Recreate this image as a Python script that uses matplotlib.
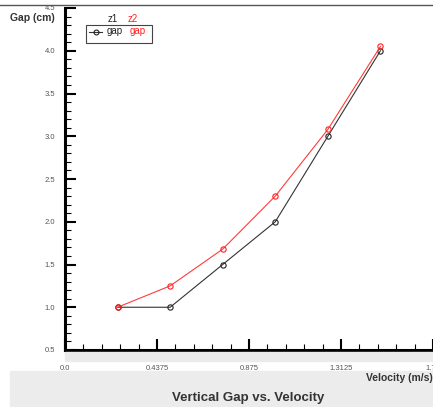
import matplotlib
matplotlib.use("Agg")
import matplotlib.pyplot as plt
from matplotlib.patches import Rectangle
from matplotlib.lines import Line2D
from matplotlib.ticker import MultipleLocator, FixedLocator

plt.rcParams["font.family"] = ["Liberation Sans", "DejaVu Sans"]

velocity = [0.25, 0.5, 0.75, 1.0, 1.25, 1.5]
gap_z1 = [1.0, 1.0, 1.5, 2.0, 3.0, 4.0]
gap_z2 = [1.0, 1.25, 1.68, 2.3, 3.08, 4.05]
x_ticks = [0.0, 0.4375, 0.875, 1.3125, 1.75]
x_tick_labels = ["0.0", "0.4375", "0.875", "1.3125", "1.75"]
y_ticks = [0.5, 1.0, 1.5, 2.0, 2.5, 3.0, 3.5, 4.0, 4.5]

W, H = 433, 407
fig = plt.figure(figsize=(W / 100, H / 100), dpi=100)
fig.patch.set_facecolor("white")

def fx(px):
    return px / W

def fy(py):
    return 1 - py / H

# background panels
fig.patches.append(Rectangle((fx(65), fy(361)), 1 - fx(65), fy(352) - fy(361),
                             transform=fig.transFigure, color="#ebebeb", zorder=0))
fig.patches.append(Rectangle((fx(10), 0), 1 - fx(10), fy(371),
                             transform=fig.transFigure, color="#ececec", zorder=0))
fig.lines.append(Line2D([0, 1], [fy(5), fy(5)], transform=fig.transFigure,
                        color="#555555", lw=1.0))

ax = fig.add_axes([fx(65), fy(350), 1 - fx(65) + 0.0, fy(8) - fy(350)])
ax.set_xlim(0, 1.75)
ax.set_ylim(0.5, 4.5)
ax.patch.set_alpha(0)
for s in ["top", "right"]:
    ax.spines[s].set_visible(False)
for s in ["left", "bottom"]:
    ax.spines[s].set_linewidth(2.2)
    ax.spines[s].set_color("black")

ax.plot(velocity, gap_z1, color="#333333", lw=0.8, marker="o", ms=3.8,
        mfc="none", mec="#222222", mew=0.8, zorder=3)
ax.plot(velocity, gap_z2, color="#ff3b3b", lw=0.8, marker="o", ms=3.8,
        mfc="none", mec="#ff2020", mew=0.8, zorder=4)

ax.xaxis.set_major_locator(FixedLocator(x_ticks))
ax.set_xticklabels(x_tick_labels)
ax.xaxis.set_minor_locator(MultipleLocator(0.0875))
ax.yaxis.set_major_locator(FixedLocator(y_ticks))
ax.set_yticklabels([f"{v:.1f}" for v in y_ticks])
ax.yaxis.set_minor_locator(MultipleLocator(0.1))
ax.tick_params(axis="both", which="major", direction="in", length=8, width=1.5,
               labelsize=5.5, labelcolor="#555555", color="black")
ax.tick_params(axis="both", which="minor", direction="in", length=4, width=0.8,
               color="black")
ax.tick_params(axis="x", which="major", pad=11)
ax.tick_params(axis="y", which="major", pad=7)

# axis titles and chart title
fig.text(fx(10), fy(18), "Gap (cm)", fontsize=7.5, fontweight="bold",
         color="#333333", ha="left", va="center")
fig.text(fx(433), fy(378), "Velocity (m/s)", fontsize=7.5, fontweight="bold",
         color="#333333", ha="right", va="center")
fig.text(fx(248), fy(398), "Vertical Gap vs. Velocity", fontsize=9.5,
         fontweight="bold", color="#333333", ha="center", va="center")

# custom legend
fig.patches.append(Rectangle((fx(86), fy(43)), fx(152) - fx(86), fy(25) - fy(43),
                             transform=fig.transFigure, fill=False,
                             edgecolor="#444444", lw=0.8, zorder=5))
fig.text(fx(113), fy(19), "z1", fontsize=7, color="#222222", ha="center", va="center")
fig.text(fx(133), fy(19), "z2", fontsize=7, color="#ff2020", ha="center", va="center")
fig.lines.append(Line2D([fx(89), fx(102)], [fy(32), fy(32)], transform=fig.transFigure,
                        color="#333333", lw=0.8))
fig.lines.append(Line2D([fx(95.5)], [fy(32)], transform=fig.transFigure,
                        color="#333333", lw=0, marker="o", ms=3.5, mfc="none",
                        mec="#222222", mew=0.8))
fig.text(fx(107), fy(31), "gap", fontsize=7, color="#222222", ha="left", va="center")
fig.text(fx(130), fy(31), "gap", fontsize=7, color="#ff2020", ha="left", va="center")

fig.savefig("out.png", dpi=100)
